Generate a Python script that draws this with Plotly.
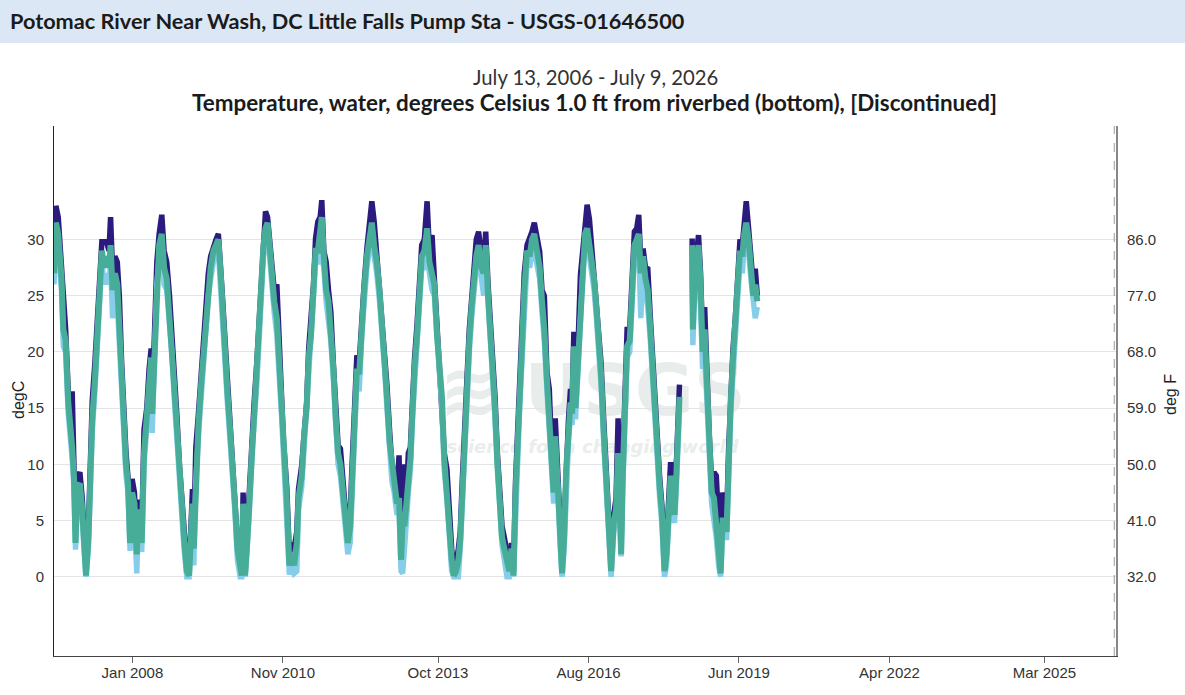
import plotly.graph_objects as go

# ---------------- data ----------------
dates = [
    "2006-07-13","2006-07-26","2006-08-11","2006-08-23","2006-09-03","2006-09-15","2006-10-01","2006-10-19","2006-11-04","2006-11-15","2006-11-27","2006-12-08","2006-12-20",
    "2007-01-07","2007-01-23","2007-02-04","2007-02-18","2007-03-06","2007-03-17","2007-04-02","2007-04-20","2007-05-06","2007-05-25","2007-06-07","2007-06-24","2007-07-09","2007-07-26","2007-08-06","2007-08-20","2007-09-05","2007-09-21","2007-10-05","2007-10-21","2007-11-06","2007-11-20","2007-12-04","2007-12-18",
    "2008-01-01","2008-01-17","2008-02-02","2008-02-13","2008-02-25","2008-03-07","2008-03-23","2008-04-11","2008-04-27","2008-05-11","2008-05-18","2008-06-01","2008-06-19","2008-07-05","2008-07-23","2008-08-08","2008-08-26","2008-09-14","2008-09-30","2008-10-16","2008-11-03","2008-11-21","2008-12-07","2008-12-23",
    "2009-01-11","2009-01-27","2009-02-08","2009-02-19","2009-02-28","2009-03-14","2009-04-01","2009-04-19","2009-05-05","2009-05-21","2009-06-08","2009-06-24","2009-07-13","2009-07-31","2009-08-16","2009-09-01","2009-09-15","2009-10-01","2009-10-17","2009-11-05","2009-11-23","2009-12-09","2009-12-25",
    "2010-01-13","2010-01-24","2010-02-02","2010-02-16","2010-02-28","2010-03-16","2010-04-03","2010-04-19","2010-05-07","2010-05-23","2010-06-11","2010-06-22","2010-07-06","2010-07-20","2010-08-03","2010-08-19","2010-09-04","2010-09-22","2010-10-08","2010-10-26","2010-11-06","2010-11-29","2010-12-17",
    "2011-01-03","2011-01-19","2011-02-06","2011-02-18","2011-03-12","2011-03-28","2011-04-15","2011-04-29","2011-05-15","2011-06-01","2011-06-15","2011-07-01","2011-07-17","2011-07-28","2011-08-11","2011-08-27","2011-09-12","2011-09-28","2011-10-16","2011-11-01","2011-11-17","2011-12-03","2011-12-24",
    "2012-01-09","2012-01-23","2012-02-08","2012-02-19","2012-03-06","2012-03-25","2012-04-10","2012-04-28","2012-05-14","2012-06-02","2012-06-18","2012-07-06","2012-07-22","2012-08-09","2012-08-28","2012-09-13","2012-10-02","2012-10-18","2012-11-05","2012-11-21","2012-12-07","2012-12-26",
    "2013-01-09","2013-01-23","2013-02-03","2013-02-15","2013-03-01","2013-03-14","2013-03-28","2013-04-11","2013-04-25","2013-05-13","2013-05-29","2013-06-14","2013-07-02","2013-07-21","2013-08-06","2013-08-24","2013-09-09","2013-09-27","2013-10-15","2013-10-31","2013-11-16","2013-12-04","2013-12-20",
    "2014-01-06","2014-01-20","2014-02-05","2014-02-21","2014-03-06","2014-03-20","2014-04-05","2014-04-21","2014-05-07","2014-05-23","2014-06-08","2014-06-24","2014-07-10","2014-07-29","2014-08-14","2014-08-28","2014-09-13","2014-09-29","2014-10-15","2014-10-31","2014-11-16","2014-12-02","2014-12-18",
    "2015-01-03","2015-01-21","2015-02-06","2015-02-21","2015-03-07","2015-03-21","2015-04-04","2015-04-18","2015-05-04","2015-05-20","2015-06-08","2015-06-26","2015-07-12","2015-07-28","2015-08-15","2015-09-03","2015-09-19","2015-10-05","2015-10-23","2015-11-08","2015-11-24","2015-12-08","2015-12-19",
    "2016-01-05","2016-01-21","2016-02-04","2016-02-18","2016-03-03","2016-03-19","2016-04-02","2016-04-13","2016-04-25","2016-05-06","2016-05-22","2016-06-09","2016-06-25","2016-07-11","2016-07-25","2016-08-10","2016-08-26","2016-09-11","2016-09-27","2016-10-13","2016-10-29","2016-11-16","2016-12-04","2016-12-20",
    "2017-01-06","2017-01-24","2017-02-09","2017-02-23","2017-03-04","2017-03-16","2017-03-27","2017-04-10","2017-04-26","2017-05-14","2017-05-30","2017-06-15","2017-07-01","2017-07-15","2017-07-29","2017-08-14","2017-08-30","2017-09-15","2017-10-03","2017-10-19","2017-11-04","2017-11-20","2017-12-06","2017-12-22",
    "2018-01-08","2018-01-22","2018-02-05","2018-02-19","2018-03-04","2018-03-18","2018-04-01","2018-04-12","2018-04-21","2018-06-01","2018-07-17","2018-07-22","2018-07-29","2018-08-14","2018-08-30","2018-09-13","2018-09-27","2018-10-11","2018-10-27","2018-11-12","2018-11-28","2018-12-14","2018-12-30",
    "2019-01-15","2019-01-29","2019-02-11","2019-02-25","2019-03-11","2019-03-25","2019-04-08","2019-04-24","2019-05-10","2019-05-26","2019-06-11","2019-06-27","2019-07-10","2019-07-24","2019-08-09","2019-08-25","2019-09-10","2019-09-24","2019-10-08",
]

temp_mean = [
    27.0, 31.5, 30.5, 28.8, 26.5, 22.0, 21.0, 15.5, 13.5, 11.5, 9.0, 3.0, 8.0,
    8.3, 6.0, 2.8, 0.1, 3.2, 10.0, 14.0, 17.5, 21.5, 27.0, 29.0, 27.5, 28.5, 27.5, 29.5, 25.5, 27.0, 26.0, 22.0, 18.0, 12.5, 10.0, 8.3, 3.0,
    7.5, 6.5, 2.0, 6.0, 4.5, 3.0, 11.0, 14.0, 17.5, 19.5, 14.5, 20.0, 27.0, 29.5, 30.5, 27.5, 26.5, 23.5, 21.0, 17.0, 13.5, 9.0, 6.3, 3.5,
    0.5, 0.1, 3.5, 6.5, 2.5, 9.5, 13.5, 17.0, 20.0, 23.0, 26.0, 27.5, 29.0, 29.5, 30.0, 27.0, 23.0, 19.5, 16.5, 13.0, 10.0, 6.3, 2.5,
    0.5, 0.1, 6.5, 0.1, 2.5, 6.5, 12.0, 14.5, 18.0, 22.0, 27.0, 29.5, 31.0, 31.5, 29.5, 26.5, 24.5, 23.0, 19.5, 15.0, 12.0, 7.0, 1.0,
    2.0, 1.0, 3.0, 7.0, 9.0, 12.5, 15.0, 19.5, 21.5, 25.5, 29.0, 29.0, 31.0, 32.0, 28.5, 25.5, 24.5, 22.0, 18.5, 14.0, 11.0, 10.0, 7.5,
    4.5, 3.0, 4.5, 8.5, 12.5, 18.5, 18.0, 22.5, 25.5, 28.5, 30.0, 31.5, 29.5, 28.0, 25.5, 23.0, 19.5, 16.0, 12.0, 9.5, 8.5, 6.5,
    7.0, 1.5, 5.0, 4.5, 6.0, 8.5, 10.5, 15.0, 18.5, 21.5, 26.0, 28.5, 29.0, 31.0, 28.0, 27.0, 26.0, 21.5, 19.0, 16.0, 10.5, 8.0, 4.5,
    1.5, 0.1, 0.5, 1.5, 3.3, 8.0, 13.5, 17.0, 21.0, 24.0, 27.0, 28.5, 29.5, 27.5, 27.0, 29.5, 25.0, 22.0, 18.5, 15.0, 10.0, 6.5, 3.5,
    2.5, 1.0, 0.5, 2.5, 0.1, 7.5, 11.0, 16.0, 20.5, 25.5, 29.0, 28.5, 30.0, 30.5, 29.0, 27.5, 24.5, 22.0, 17.5, 13.5, 10.0, 7.5, 12.5,
    9.0, 4.0, 0.3, 3.5, 9.5, 13.0, 15.5, 14.5, 20.5, 15.0, 19.0, 25.0, 28.0, 30.5, 31.0, 29.5, 28.0, 26.5, 24.0, 21.5, 18.0, 13.0, 8.0, 3.5,
    0.5, 4.8, 6.0, 11.0, 8.0, 2.0, 9.0, 15.5, 20.5, 21.0, 25.5, 29.5, 30.0, 30.5, 27.0, 28.5, 26.5, 25.5, 22.0, 18.0, 14.5, 10.0, 8.0, 5.5,
    0.5, 2.0, 5.0, 9.0, 7.0, 5.5, 9.5, 13.0, 16.0, None, 29.5, 22.0, 24.5, 27.5, 29.5, 26.0, 20.0, 22.0, 16.5, 11.5, 7.5, 7.0, 5.0,
    2.0, 0.3, 5.0, 5.0, 4.0, 11.0, 15.5, 19.5, 22.0, 26.0, 29.0, 28.5, 30.5, 31.5, 30.0, 28.0, 25.0, 26.0, 24.5,
]

temp_max = [
    28.5, 33.0, 32.0, 29.5, 28.8, 24.5, 22.0, 16.5, 14.5, 16.5, 10.0, 4.0, 8.8,
    9.3, 7.0, 3.5, 0.6, 4.0, 10.8, 15.7, 19.0, 22.5, 27.8, 29.8, 29.8, 29.8, 29.0, 32.0, 27.0, 28.5, 28.0, 25.0, 19.0, 13.5, 11.0, 8.8, 3.8,
    8.7, 7.5, 3.0, 6.8, 6.5, 4.0, 13.1, 15.0, 18.5, 20.3, 15.5, 21.0, 28.0, 30.5, 32.2, 29.0, 28.0, 25.0, 22.0, 18.0, 14.5, 10.0, 7.0, 4.5,
    1.0, 0.5, 4.5, 7.8, 3.5, 11.5, 14.5, 18.0, 20.8, 24.0, 27.0, 28.5, 29.5, 30.0, 30.5, 28.0, 24.5, 21.0, 17.5, 13.5, 11.0, 7.0, 3.0,
    1.0, 0.5, 7.5, 0.5, 3.5, 7.5, 13.0, 15.5, 19.0, 23.0, 28.5, 30.0, 32.5, 32.0, 30.0, 27.5, 25.5, 26.0, 20.5, 15.5, 12.2, 8.0, 2.0,
    3.0, 2.5, 4.0, 7.8, 9.9, 13.0, 15.5, 20.3, 22.5, 26.0, 30.1, 31.6, 32.0, 33.5, 29.0, 28.0, 25.5, 23.6, 18.8, 15.0, 11.7, 11.4, 8.7,
    5.5, 6.3, 5.5, 9.3, 13.7, 19.7, 19.0, 23.3, 26.0, 29.2, 30.8, 33.4, 31.6, 28.6, 26.0, 24.0, 20.0, 17.0, 13.0, 10.0, 9.3, 7.5,
    10.8, 2.5, 10.0, 5.5, 7.0, 11.0, 11.5, 16.0, 19.3, 22.5, 27.0, 29.5, 30.0, 33.4, 29.0, 30.4, 26.5, 22.5, 19.5, 16.5, 11.0, 9.6, 5.5,
    2.5, 0.5, 1.2, 2.5, 4.0, 8.6, 14.5, 17.6, 22.0, 25.0, 28.0, 30.0, 30.7, 28.5, 28.0, 30.7, 26.0, 23.0, 19.1, 16.0, 11.0, 8.4, 4.5,
    3.5, 2.0, 1.0, 3.0, 0.5, 8.5, 12.5, 16.5, 21.5, 27.0, 29.5, 30.0, 30.7, 31.5, 30.4, 28.9, 25.5, 25.0, 18.2, 16.7, 11.0, 8.5, 14.1,
    10.0, 5.0, 1.0, 4.5, 10.5, 14.0, 16.7, 15.5, 21.8, 16.0, 20.0, 26.8, 29.0, 31.5, 33.1, 31.8, 29.2, 27.5, 24.8, 22.0, 19.0, 14.0, 9.0, 4.5,
    1.0, 5.5, 7.0, 14.1, 9.0, 3.0, 10.0, 16.5, 22.0, 22.0, 26.5, 30.7, 31.0, 32.2, 28.0, 29.2, 27.5, 27.4, 23.0, 19.0, 15.0, 11.0, 8.8, 6.2,
    1.0, 3.0, 6.0, 10.2, 8.0, 8.5, 10.5, 14.0, 17.1, None, 30.1, 23.0, 25.5, 28.5, 30.4, 27.0, 21.0, 24.0, 17.5, 12.5, 8.5, 9.3, 9.0,
    3.0, 1.0, 7.5, 6.0, 5.0, 11.4, 16.5, 20.3, 23.0, 26.8, 30.0, 29.5, 31.6, 33.4, 31.0, 29.0, 26.0, 27.4, 25.0,
]

temp_min = [
    26.0, 30.0, 29.0, 27.0, 25.5, 20.5, 20.0, 14.5, 12.5, 10.5, 8.0, 2.4, 7.0,
    7.5, 5.0, 2.0, 0.0, 2.5, 9.0, 13.0, 16.5, 20.0, 26.0, 28.0, 26.0, 27.0, 26.0, 28.0, 23.0, 25.5, 24.5, 20.5, 17.0, 11.5, 9.0, 7.5, 2.3,
    6.8, 5.5, 0.3, 5.0, 3.5, 2.2, 10.0, 13.0, 16.5, 18.5, 12.8, 18.5, 26.0, 28.5, 29.5, 26.0, 25.5, 22.5, 20.0, 16.0, 12.5, 8.0, 5.5, 2.5,
    0.0, 0.0, 2.5, 5.5, 1.0, 8.5, 12.5, 16.0, 19.0, 22.0, 25.0, 26.5, 28.0, 28.5, 29.0, 25.5, 22.0, 18.5, 15.5, 12.0, 9.0, 5.5, 1.5,
    0.0, 0.0, 5.5, 0.0, 1.8, 5.5, 11.0, 13.5, 17.0, 21.0, 26.0, 28.5, 30.0, 30.5, 28.5, 25.5, 23.5, 21.5, 18.5, 14.0, 11.0, 5.5, 0.2,
    1.0, 0.3, 0.5, 6.0, 8.0, 11.5, 14.0, 18.5, 20.5, 24.5, 28.0, 28.0, 30.0, 28.5, 27.5, 24.5, 23.0, 21.0, 17.5, 13.0, 10.0, 9.0, 6.5,
    3.5, 2.0, 3.0, 7.5, 11.5, 17.5, 16.5, 21.5, 24.5, 27.5, 29.0, 30.5, 28.5, 27.0, 24.5, 22.0, 18.5, 15.0, 11.0, 8.5, 7.5, 5.5,
    6.0, 0.5, 0.3, 3.5, 5.0, 7.5, 9.5, 14.0, 17.0, 20.5, 25.0, 27.5, 27.5, 29.0, 27.0, 25.5, 25.0, 20.5, 18.0, 15.0, 9.5, 7.0, 3.5,
    0.5, 0.0, 0.0, 0.0, 2.5, 7.0, 12.5, 16.0, 20.0, 23.0, 26.0, 27.5, 28.5, 26.5, 25.0, 28.0, 23.5, 21.0, 17.5, 14.0, 9.0, 5.5, 2.8,
    1.5, 0.0, 0.0, 1.5, 0.0, 6.5, 10.0, 15.0, 19.5, 24.5, 28.0, 27.5, 29.0, 29.0, 27.5, 26.5, 23.5, 21.0, 16.5, 12.5, 9.0, 6.5, 11.0,
    8.0, 3.0, 0.0, 2.5, 8.5, 12.0, 14.5, 13.5, 19.5, 14.0, 18.0, 24.0, 27.0, 29.5, 30.0, 28.5, 27.0, 25.5, 23.0, 20.5, 17.0, 12.0, 7.0, 2.5,
    0.0, 4.0, 5.0, 10.0, 6.0, 1.8, 8.0, 14.5, 19.5, 20.0, 24.5, 28.5, 29.0, 29.5, 23.0, 27.5, 25.5, 24.0, 21.0, 17.0, 13.5, 9.0, 7.0, 4.5,
    0.0, 1.0, 4.0, 8.0, 5.5, 4.8, 8.5, 12.0, 15.0, None, 28.5, 20.6, 23.5, 26.5, 28.5, 24.0, 18.5, 20.0, 15.5, 10.0, 6.5, 5.0, 3.5,
    1.0, 0.0, 4.0, 3.5, 3.5, 9.5, 14.5, 18.0, 21.0, 25.0, 28.0, 27.0, 29.5, 30.0, 29.0, 26.5, 24.0, 23.0, 24.0,
]

x_tick_dates = ["2008-01-03", "2010-11-03", "2013-10-04", "2016-08-04", "2019-06-04", "2022-04-04", "2025-03-04"]
x_tick_labels = ["Jan 2008", "Nov 2010", "Oct 2013", "Aug 2016", "Jun 2019", "Apr 2022", "Mar 2025"]
c_ticks = [0, 5, 10, 15, 20, 25, 30]
f_ticks = [32.0, 41.0, 50.0, 59.0, 68.0, 77.0, 86.0]

x_start, x_end = "2006-07-13", "2026-07-09"
now_marker = "2026-06-27"
c_range = [-7.05, 40.1]

station_title = "Potomac River Near Wash, DC Little Falls Pump Sta - USGS-01646500"
date_span = "July 13, 2006 - July 9, 2026"
param_title = "Temperature, water, degrees Celsius 1.0 ft from riverbed (bottom), [Discontinued]"
left_title = "degC"
right_title = "deg F"

# ---------------- layout helpers ----------------
W, H = 1185, 695
ML, MR, MT, MB = 54, 69, 126, 39
PW, PH = W - ML - MR, H - MT - MB


def px(x):
    return (x - ML) / PW


def py(y):
    return (H - MB - y) / PH


C_NAVY = "#2c1b7e"
C_LIGHT = "#86cdea"
C_TEAL = "#48ad98"
TICK_FONT = dict(family="Liberation Sans, Arial, sans-serif", size=15, color="#333333")
TITLE_FONT = dict(family="Liberation Sans, Arial, sans-serif", size=16, color="#222222")
HEAD_FONT = "Lato, 'Source Sans Pro', sans-serif"

fig = go.Figure()
fig.add_trace(go.Scatter(x=dates, y=temp_max, mode="lines", name="Max",
                         line=dict(color=C_NAVY, width=5.5), connectgaps=False, hoverinfo="skip"))
fig.add_trace(go.Scatter(x=dates, y=temp_min, mode="lines", name="Min",
                         line=dict(color=C_LIGHT, width=5.5), connectgaps=False, hoverinfo="skip"))
fig.add_trace(go.Scatter(x=dates, y=temp_mean, mode="lines", name="Mean",
                         line=dict(color=C_TEAL, width=6), connectgaps=False, hoverinfo="skip"))
# invisible helper trace so that the Fahrenheit axis is drawn
fig.add_trace(go.Scatter(x=[dates[0]], y=[None], yaxis="y2", mode="lines",
                         showlegend=False, hoverinfo="skip"))

f_range = [c * 1.8 + 32 for c in c_range]

fig.update_layout(
    width=W, height=H,
    margin=dict(l=ML, r=MR, t=MT, b=MB, pad=0, autoexpand=False),
    paper_bgcolor="white", plot_bgcolor="white",
    showlegend=False,
    xaxis=dict(type="date", range=[x_start, x_end], showgrid=False, zeroline=False,
               showline=True, linecolor="#444444", linewidth=1, automargin=False,
               ticks="outside", ticklen=6, tickcolor="#666666", ticklabelstandoff=-3,
               tickvals=x_tick_dates, ticktext=x_tick_labels, tickfont=TICK_FONT),
    yaxis=dict(range=c_range, tickvals=c_ticks, showgrid=True, gridcolor="#e4e4e4", gridwidth=1,
               zeroline=False, showline=True, linecolor="#222222", linewidth=1, automargin=False,
               ticks="", ticklabelstandoff=6, tickfont=TICK_FONT),
    yaxis2=dict(range=f_range, overlaying="y", side="right", anchor="x", automargin=False,
                tickvals=f_ticks, tickformat=".1f", showgrid=False, zeroline=False,
                showline=True, linecolor="#888888", linewidth=2, ticks="",
                ticklabelstandoff=6, tickfont=TICK_FONT),
    shapes=[
        # header band
        dict(type="rect", xref="paper", yref="paper", x0=px(-20), x1=px(W + 20), y0=py(43), y1=py(-20),
             fillcolor="#dbe7f4", line=dict(width=0), layer="below"),
        # "now" marker
        dict(type="line", xref="x", yref="paper", x0=now_marker, x1=now_marker, y0=0, y1=1,
             line=dict(color="#999999", width=1, dash="dash")),
        # watermark
        dict(type="rect", xref="paper", yref="paper", x0=px(445), x1=px(740), y0=py(425), y1=py(345),
             line=dict(width=0), fillcolor="rgba(0,0,0,0)", layer="below",
             label=dict(text="<b>≋ USGS</b>", font=dict(family="DejaVu Sans", size=72, color="#e8edeb"),
                        textposition="middle center")),
        dict(type="rect", xref="paper", yref="paper", x0=px(445), x1=px(740), y0=py(460), y1=py(430),
             line=dict(width=0), fillcolor="rgba(0,0,0,0)", layer="below",
             label=dict(text="<b><i>science for a changing world</i></b>",
                        font=dict(family="DejaVu Sans", size=18, color="#e9eeec"),
                        textposition="middle center")),
    ],
    annotations=[
        dict(text="<b>" + station_title + "</b>", xref="paper", yref="paper", x=px(8), y=py(21),
             xanchor="left", yanchor="middle", showarrow=False,
             font=dict(family=HEAD_FONT, size=21.7, color="#1b1b1b")),
        dict(text=date_span, xref="paper", yref="paper", x=px(595), y=py(77),
             xanchor="center", yanchor="middle", showarrow=False,
             font=dict(family=HEAD_FONT, size=20.3, color="#333333")),
        dict(text="<b>" + param_title + "</b>", xref="paper", yref="paper", x=px(594), y=py(103),
             xanchor="center", yanchor="middle", showarrow=False,
             font=dict(family=HEAD_FONT, size=22.4, color="#1b1b1b")),
        dict(text=left_title, xref="paper", yref="paper", x=px(18), y=py(400), textangle=-90,
             xanchor="center", yanchor="middle", showarrow=False, font=TITLE_FONT),
        dict(text=right_title, xref="paper", yref="paper", x=px(1170), y=py(395), textangle=-90,
             xanchor="center", yanchor="middle", showarrow=False, font=TITLE_FONT),
    ],
)

fig.write_html("out.html")
